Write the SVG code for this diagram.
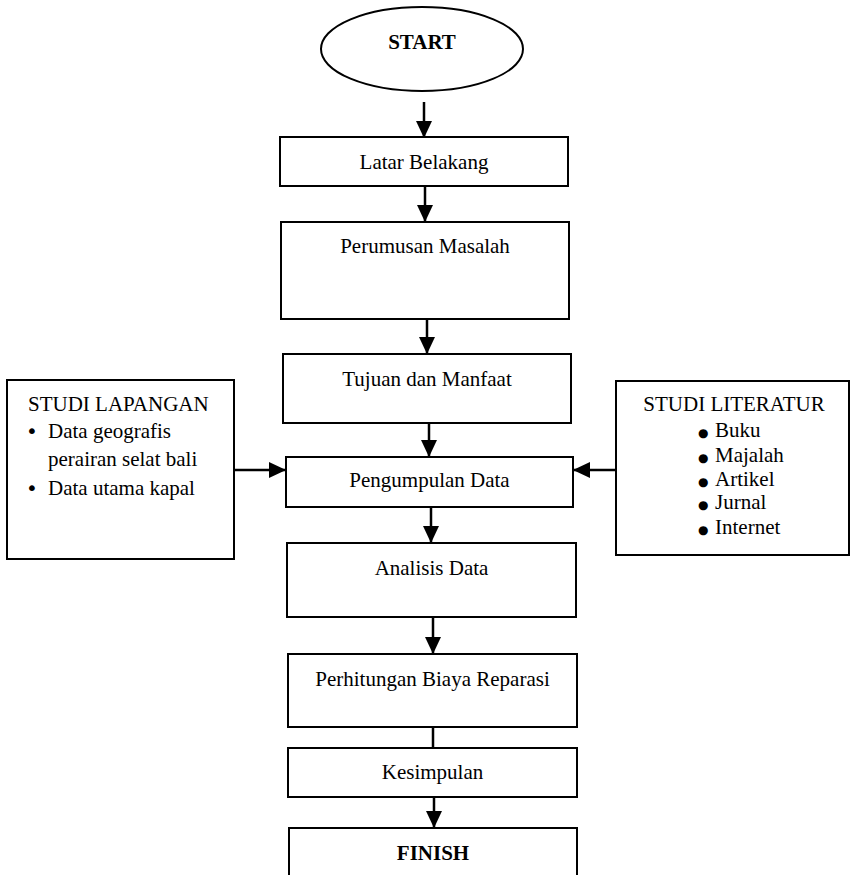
<svg xmlns="http://www.w3.org/2000/svg" width="853" height="875" viewBox="0 0 853 875">
<style>
.box{fill:#fff;stroke:#000;stroke-width:2}
.t{font-family:"Liberation Serif","Times New Roman",Times,serif;font-size:21px;fill:#000}
.c{text-anchor:middle}
.b{font-weight:bold}
.con{stroke:#000;stroke-width:2.5;fill:none}
.bul{font-family:"DejaVu Sans",sans-serif;fill:#000}
</style>
<defs>
<marker id="ah" viewBox="0 0 17 16" refX="16" refY="8" markerWidth="17" markerHeight="16" markerUnits="userSpaceOnUse" orient="auto">
<path d="M0,0 L17,8 L0,16 z" fill="#000"/>
</marker>
</defs>
<rect width="853" height="875" fill="#fff"/>
<g id="start">
<ellipse class="box" cx="422" cy="49" rx="101" ry="42"/>
<text class="t c b" x="422" y="49">START</text>
</g>
<g id="latar">
<rect class="box" x="280" y="137" width="288" height="49"/>
<text class="t c" x="424" y="169">Latar Belakang</text>
</g>
<g id="perumusan">
<rect class="box" x="281" y="222" width="288" height="97"/>
<text class="t c" x="425" y="253">Perumusan Masalah</text>
</g>
<g id="tujuan">
<rect class="box" x="283" y="354" width="288" height="69"/>
<text class="t c" x="427" y="386">Tujuan dan Manfaat</text>
</g>
<g id="pengumpulan">
<rect class="box" x="286" y="457" width="287" height="50"/>
<text class="t c" x="429.5" y="487">Pengumpulan Data</text>
</g>
<g id="analisis">
<rect class="box" x="287" y="543" width="289" height="74"/>
<text class="t c" x="431.5" y="575">Analisis Data</text>
</g>
<g id="perhitungan">
<rect class="box" x="288" y="654" width="289" height="73"/>
<text class="t c" x="432.5" y="686">Perhitungan Biaya Reparasi</text>
</g>
<g id="kesimpulan">
<rect class="box" x="288" y="748" width="289" height="49"/>
<text class="t c" x="432.5" y="779">Kesimpulan</text>
</g>
<g id="finish">
<rect class="box" x="289" y="828" width="288" height="60"/>
<text class="t c b" x="433" y="860">FINISH</text>
</g>
<g id="studi-lapangan">
<rect class="box" x="7" y="380" width="227" height="179"/>
<text class="t" x="28" y="411">STUDI LAPANGAN</text>
<text class="bul" x="26" y="438" font-size="20">•</text>
<text class="t" x="48" y="438">Data geografis</text>
<text class="t" x="48" y="466">perairan selat bali</text>
<text class="bul" x="26" y="495" font-size="20">•</text>
<text class="t" x="48" y="495">Data utama kapal</text>
</g>
<g id="studi-literatur">
<rect class="box" x="616" y="381" width="233" height="174"/>
<text class="t c" x="734" y="411">STUDI LITERATUR</text>
<text class="bul" x="698" y="437" font-size="12">●</text>
<text class="t" x="715" y="437">Buku</text>
<text class="bul" x="698" y="462" font-size="12">●</text>
<text class="t" x="715" y="462">Majalah</text>
<text class="bul" x="698" y="486" font-size="12">●</text>
<text class="t" x="715" y="486">Artikel</text>
<text class="bul" x="698" y="509" font-size="12">●</text>
<text class="t" x="715" y="509">Jurnal</text>
<text class="bul" x="698" y="534" font-size="12">●</text>
<text class="t" x="715" y="534">Internet</text>
</g>
<g id="connectors">
<path class="con" d="M424,102 V137" marker-end="url(#ah)"/>
<path class="con" d="M425,186 V221" marker-end="url(#ah)"/>
<path class="con" d="M427,319 V353" marker-end="url(#ah)"/>
<path class="con" d="M429,423 V456" marker-end="url(#ah)"/>
<path class="con" d="M431,507 V542" marker-end="url(#ah)"/>
<path class="con" d="M433,617 V653" marker-end="url(#ah)"/>
<path class="con" d="M433,727 V748"/>
<path class="con" d="M434,797 V827" marker-end="url(#ah)"/>
<path class="con" d="M234,470 H285" marker-end="url(#ah)"/>
<path class="con" d="M616,470 H574" marker-end="url(#ah)"/>
</g>
</svg>
